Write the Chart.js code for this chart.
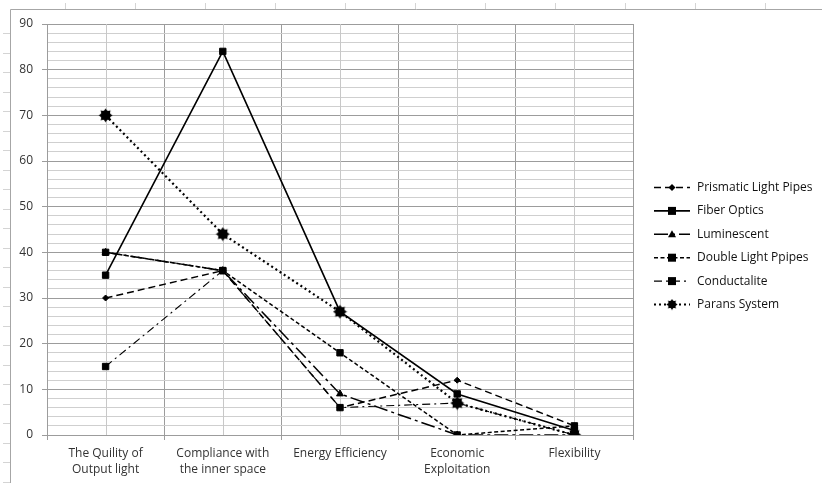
<!DOCTYPE html>
<html><head><meta charset="utf-8">
<script src="https://cdn.jsdelivr.net/npm/chart.js@4.4.0/dist/chart.umd.min.js"></script>
<style>html,body{margin:0;padding:0;background:#fff;}canvas{display:block}</style>
</head><body>
<canvas id="c" width="822" height="483"></canvas>
<script>
const categories = [["The Quility of","Output light"],["Compliance with","the inner space"],"Energy Efficiency",["Economic","Exploitation"],"Flexibility"];
const seriesNames = ["Prismatic Light Pipes","Fiber Optics","Luminescent","Double Light Ppipes","Conductalite","Parans System"];
const prismatic = [30, 36, 6, 12, 2];
const fiberOptics = [35, 84, 27, 9, 1];
const luminescent = [40, 36, 9, 0, 0];
const doubleLight = [40, 36, 18, 0, 2];
const conductalite = [15, 36, 6, 7, 0];
const parans = [70, 44, 27, 7, 0];
const yTicksMajor = [0,10,20,30,40,50,60,70,80,90];

const FONT = "'Open Sans'";
const TXT = "#333333";

function makeStar(){
  const c = document.createElement('canvas'); c.width = 15; c.height = 15;
  const g = c.getContext('2d'); g.fillStyle = '#000';
  g.beginPath();
  for(let i=0;i<16;i++){
    const r = (i%2===0)?7:4.6; const a = i*Math.PI/8 - Math.PI/2;
    const x = 7.5 + r*Math.cos(a), y = 7.5 + r*Math.sin(a);
    i===0?g.moveTo(x,y):g.lineTo(x,y);
  }
  g.closePath(); g.fill();
  g.beginPath(); g.arc(7.5,7.5,5,0,Math.PI*2); g.fill();
  return c;
}
const star = makeStar();

const styles = [
  {data: prismatic, dash:[7,4], width:1.5, pt:'rectRot', r:3},
  {data: fiberOptics, dash:[], width:1.6, pt:'rect', r:4.5},
  {data: luminescent, dash:[14,4,3,4], width:1.5, pt:'triangle', r:4},
  {data: doubleLight, dash:[4,2.5], width:1.5, pt:'rect', r:4.5},
  {data: conductalite, dash:[8,4,2,4], width:1.1, pt:'rect', r:4.5},
  {data: parans, dash:[2,3], width:2.2, pt:star, r:7}
];

const datasets = styles.map((s,i)=>({
  label: seriesNames[i], data: s.data,
  borderColor:'#000', backgroundColor:'#000', borderWidth:s.width, borderDash:s.dash,
  pointStyle:s.pt, pointRadius:s.r, pointBackgroundColor:'#000', pointBorderColor:'#000', pointBorderWidth:1,
  tension:0, fill:false
}));

const framePlugin = {
  id:'frame',
  beforeDraw(chart){
    const ctx = chart.ctx; ctx.save();
    ctx.fillStyle='#fff'; ctx.fillRect(0,0,chart.width,chart.height);
    ctx.strokeStyle='#d4d4d4'; ctx.lineWidth=1;
    for(let x=65;x<822;x+=70){ctx.beginPath();ctx.moveTo(x+0.5,3);ctx.lineTo(x+0.5,9);ctx.stroke();}
    for(let y=33;y<483;y+=19.5){ctx.beginPath();ctx.moveTo(3,Math.round(y)+0.5);ctx.lineTo(10,Math.round(y)+0.5);ctx.stroke();}
    ctx.strokeStyle='#a6a6a6';
    ctx.beginPath();ctx.moveTo(10.5,483);ctx.lineTo(10.5,9.5);ctx.lineTo(822,9.5);ctx.stroke();
    ctx.restore();
  },
  beforeDatasetsDraw(chart){
    const ctx = chart.ctx, x = chart.scales.x, a = chart.chartArea;
    ctx.save(); ctx.strokeStyle='#c8c8c8'; ctx.lineWidth=1;
    categories.forEach((c,i)=>{
      const px = Math.round(x.getPixelForValue(i))+0.5;
      ctx.beginPath(); ctx.moveTo(px,a.top); ctx.lineTo(px,a.bottom); ctx.stroke();
    });
    ctx.restore();
  },
  afterDraw(chart){
    const ctx = chart.ctx; ctx.save();
    const x0 = 654, x1 = 690, tx = 697;
    styles.forEach((s,i)=>{
      const y = 187.5 + i*23.4;
      ctx.strokeStyle='#000'; ctx.lineWidth=s.width; ctx.setLineDash(s.dash);
      ctx.beginPath(); ctx.moveTo(x0,y); ctx.lineTo(x1,y); ctx.stroke();
      ctx.setLineDash([]);
      const mx = (x0+x1)/2; ctx.fillStyle='#000';
      if(s.pt==='rect'){ctx.fillRect(mx-4,y-4,8,8);}
      else if(s.pt==='rectRot'){ctx.beginPath();ctx.moveTo(mx,y-3.5);ctx.lineTo(mx+3.5,y);ctx.lineTo(mx,y+3.5);ctx.lineTo(mx-3.5,y);ctx.closePath();ctx.fill();}
      else if(s.pt==='triangle'){ctx.beginPath();ctx.moveTo(mx,y-4);ctx.lineTo(mx+4,y+3);ctx.lineTo(mx-4,y+3);ctx.closePath();ctx.fill();}
      else {ctx.drawImage(star,mx-6,y-6,12,12);}
      ctx.fillStyle='#111'; ctx.font='12px '+FONT; ctx.textBaseline='middle'; ctx.textAlign='left';
      ctx.fillText(seriesNames[i], tx, y);
    });
    ctx.restore();
  }
};

new Chart(document.getElementById('c'), {
  type:'line',
  data:{labels:categories, datasets},
  options:{
    responsive:false, animation:false,
    layout:{padding:{left:10,right:189,top:24,bottom:4}},
    plugins:{legend:{display:false}, tooltip:{enabled:false}},
    scales:{
      x:{
        offset:true,
        grid:{offset:true, color:'#9c9c9c', lineWidth:1, tickLength:5, tickColor:'#9c9c9c', drawOnChartArea:true},
        border:{color:'#9c9c9c'},
        ticks:{color:TXT, font:{family:"Open Sans",size:12, lineHeight:1.35}, maxRotation:0, autoSkip:false, padding:5},
        afterFit(s){s.height = 44;}
      },
      y:{
        min:0, max:90,
        ticks:{stepSize:2, autoSkip:false, color:TXT, font:{family:"Open Sans",size:12}, padding:9,
          callback:(v)=> yTicksMajor.includes(v) ? String(v) : ''},
        grid:{
          color:(c)=> (c.tick && c.tick.value%10===0) ? '#9c9c9c' : '#cfcfcf',
          tickColor:(c)=> (c.tick && c.tick.value%10===0) ? '#9c9c9c' : 'rgba(0,0,0,0)',
          tickLength:5
        },
        border:{color:'#9c9c9c'},
        afterFit(s){s.width = 37;}
      }
    }
  },
  plugins:[framePlugin]
});
</script>
</body></html>
